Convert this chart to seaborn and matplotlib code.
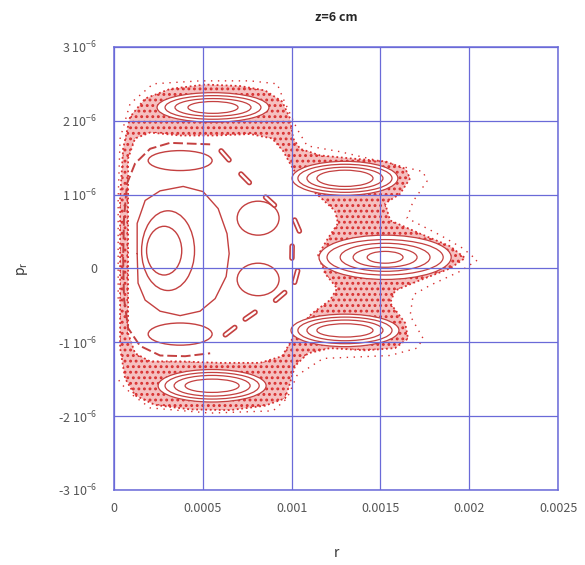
import numpy as np
import matplotlib
matplotlib.use("Agg")
import matplotlib.pyplot as plt
import seaborn as sns
from matplotlib.patches import Ellipse

# ---------------- data (r in 1e-4, p_r in 1e-6) ----------------
R_UNIT = 1e-4
P_UNIT = 1e-6

x_ticks = [0, 0.0005, 0.001, 0.0015, 0.002, 0.0025]
x_tick_labels = ["0", "0.0005", "0.001", "0.0015", "0.002", "0.0025"]
y_ticks = [-3e-6, -2e-6, -1e-6, 0, 1e-6, 2e-6, 3e-6]
y_tick_labels = ["-3 10$^{-6}$", "-2 10$^{-6}$", "-1 10$^{-6}$", "0",
                 "1 10$^{-6}$", "2 10$^{-6}$", "3 10$^{-6}$"]

# chaotic layer: outer and inner edges
chaos_outer_r = [0.34, 0.34, 0.51, 0.90, 1.75, 3.15, 5.12, 7.09, 8.50, 9.46, 9.91, 10.08,
                 10.47, 11.60, 13.29, 15.26, 16.39, 16.67, 16.10, 15.26, 15.54, 17.23, 18.92,
                 19.76, 18.92, 17.23, 15.82, 15.54, 16.39, 16.55, 15.82, 14.13, 12.16, 10.92,
                 10.19, 9.91, 9.63, 8.50, 6.53, 4.28, 2.31, 1.18, 0.62, 0.34]
chaos_outer_p = [-0.41, 0.95, 1.62, 2.05, 2.30, 2.43, 2.49, 2.47, 2.41, 2.26, 2.03, 1.76,
                 1.62, 1.53, 1.49, 1.45, 1.35, 1.22, 1.01, 0.88, 0.65, 0.47, 0.30,
                 0.14, 0.00, -0.16, -0.30, -0.47, -0.74, -0.95, -1.08, -1.11, -1.08, -1.15,
                 -1.32, -1.55, -1.76, -1.86, -1.92, -1.91, -1.85, -1.72, -1.49, -1.08]
chaos_inner_r = [0.79, 0.79, 0.79, 1.18, 2.03, 3.72, 5.69, 7.66, 8.90, 9.52, 9.91, 10.47,
                 11.49, 12.44, 12.61, 12.05, 11.49, 11.88, 12.56, 12.16, 11.15, 10.36, 9.91,
                 9.46, 8.22, 5.97, 3.72, 2.03, 1.18, 0.79]
chaos_inner_p = [-0.41, 0.95, 1.49, 1.76, 1.84, 1.80, 1.80, 1.82, 1.76, 1.59, 1.42, 1.19,
                 0.99, 0.78, 0.61, 0.41, 0.18, -0.07, -0.27, -0.43, -0.61, -0.81, -1.01,
                 -1.19, -1.28, -1.28, -1.26, -1.26, -1.15, -0.88]

# outermost sparse (dotted) orbit
outer_dot_r = [0.23, 0.23, 0.34, 0.90, 2.20, 4.84, 7.66, 9.18, 9.52, 10.30, 10.87, 12.73,
               15.54, 17.40, 17.62, 16.84, 16.50, 18.36, 19.65, 20.44, 19.48, 17.79, 16.84,
               16.67, 17.40, 17.06, 15.54, 11.77, 10.30, 9.74, 8.95, 5.41, 2.03, 1.07, 0.34, 0.23]
outer_dot_p = [-0.41, 0.95, 1.76, 2.23, 2.50, 2.54, 2.54, 2.50, 2.30, 1.89, 1.66, 1.58,
               1.42, 1.31, 1.18, 0.91, 0.68, 0.45, 0.27, 0.11, -0.04, -0.23, -0.36,
               -0.64, -0.95, -1.08, -1.18, -1.22, -1.45, -1.76, -1.93, -1.96, -1.89, -1.72, -1.55, -1.49]

# resonant islands (nested loops): centre, half widths, half heights
island_r = [5.57, 5.52, 13.0, 15.26, 13.0]
island_p = [2.18, -1.59, 1.22, 0.15, -0.84]
island_hw = [[1.41, 2.14, 2.70, 3.15],
             [1.52, 2.14, 2.65, 3.04],
             [1.58, 2.14, 2.65, 2.98],
             [1.01, 1.80, 2.53, 3.27, 3.72],
             [1.58, 2.14, 2.65, 3.04]]
island_hh = [[0.08, 0.12, 0.16, 0.20],
             [0.09, 0.14, 0.18, 0.22],
             [0.11, 0.15, 0.19, 0.23],
             [0.08, 0.135, 0.19, 0.24, 0.30],
             [0.09, 0.14, 0.18, 0.22]]

# central island inner tori
core_r = [2.82, 3.04]
core_p = [0.24, 0.24]
core_hw = [0.99, 1.49]
core_hh = [0.33, 0.54]
tri_r = [1.30, 1.30, 1.75, 2.59, 3.89, 5.01, 5.86, 6.36, 6.48, 6.31, 5.69, 4.84,
         3.72, 2.59, 1.75, 1.35, 1.30]
tri_p = [0.20, 0.61, 0.92, 1.05, 1.11, 1.04, 0.81, 0.47, 0.20, -0.11, -0.41, -0.58,
         -0.64, -0.58, -0.43, -0.20, 0.20]

# secondary small islands
small_r = [3.72, 3.72, 8.11, 8.11]
small_p = [1.46, -0.89, 0.68, -0.15]
small_hw = [1.80, 1.80, 1.18, 1.18]
small_hh = [0.135, 0.15, 0.23, 0.22]

# chain of tiny islands
chain_r = [6.25, 7.38, 8.78, 10.30, 10.02, 10.25, 9.35, 7.66, 6.53]
chain_p = [1.53, 1.22, 0.91, 0.58, 0.22, -0.11, -0.38, -0.64, -0.85]

# crescent-shaped torus on the left
cres_r = [5.41, 3.15, 2.03, 1.18, 0.73, 0.56, 0.51, 0.56, 0.79, 1.46, 2.59, 4.00, 5.41]
cres_p = [1.68, 1.70, 1.62, 1.42, 1.15, 0.68, 0.14, -0.41, -0.81, -1.05, -1.18, -1.19, -1.15]
inner_dot_r = [0.73, 0.73]
inner_dot_p = [1.08, -0.36]

# ---------------- plotting ----------------
sns.set_theme(style="white")
plt.rcParams["font.family"] = ["Noto Sans CJK JP", "DejaVu Sans"]
plt.rcParams["mathtext.default"] = "regular"
plt.rcParams["hatch.linewidth"] = 1.3

RED = "#d83030"
LOOP = "#c44040"
BLUE = "#6a6ad8"

fig = plt.figure(figsize=(5.85, 5.65), dpi=100)
ax = fig.add_axes([0.195, 0.133, 0.759, 0.784])


def arr(v, unit):
    return np.asarray(v, dtype=float) * unit


# chaotic sea (speckled)
ax.fill(arr(chaos_outer_r, R_UNIT), arr(chaos_outer_p, P_UNIT), facecolor="#f5c0c0",
        edgecolor=RED, lw=0, hatch="...", zorder=1)
sns.lineplot(x=arr(chaos_outer_r + chaos_outer_r[:1], R_UNIT),
             y=arr(chaos_outer_p + chaos_outer_p[:1], P_UNIT), sort=False, estimator=None,
             ax=ax, color=RED, lw=1.3, linestyle=(0, (1, 1.5)), zorder=1.05)
ax.fill(arr(chaos_inner_r, R_UNIT), arr(chaos_inner_p, P_UNIT), facecolor="white",
        edgecolor="none", zorder=1.1)
sns.lineplot(x=arr(chaos_inner_r + chaos_inner_r[:1], R_UNIT),
             y=arr(chaos_inner_p + chaos_inner_p[:1], P_UNIT), sort=False, estimator=None,
             ax=ax, color=RED, lw=1.3, linestyle=(0, (1, 1.5)), zorder=1.15)

# outer sparse orbit
sns.lineplot(x=arr(outer_dot_r, R_UNIT), y=arr(outer_dot_p, P_UNIT), sort=False,
             estimator=None, ax=ax, color=RED, lw=1.0, linestyle=(0, (1, 4)), zorder=2)

# islands
for cr, cp, hws, hhs in zip(island_r, island_p, island_hw, island_hh):
    ax.add_patch(Ellipse((cr * R_UNIT, cp * P_UNIT), 2 * hws[-1] * R_UNIT, 2 * hhs[-1] * P_UNIT,
                         facecolor="white", edgecolor="none", zorder=1.2))
    for hw, hh in zip(hws, hhs):
        ax.add_patch(Ellipse((cr * R_UNIT, cp * P_UNIT), 2 * hw * R_UNIT, 2 * hh * P_UNIT,
                             facecolor="none", edgecolor=LOOP, lw=0.9, zorder=2))

for cr, cp, hw, hh in zip(core_r, core_p, core_hw, core_hh):
    ax.add_patch(Ellipse((cr * R_UNIT, cp * P_UNIT), 2 * hw * R_UNIT, 2 * hh * P_UNIT,
                         facecolor="none", edgecolor=LOOP, lw=1.0, zorder=2))
sns.lineplot(x=arr(tri_r, R_UNIT), y=arr(tri_p, P_UNIT), sort=False, estimator=None,
             ax=ax, color=LOOP, lw=1.0, zorder=2)

for cr, cp, hw, hh in zip(small_r, small_p, small_hw, small_hh):
    ax.add_patch(Ellipse((cr * R_UNIT, cp * P_UNIT), 2 * hw * R_UNIT, 2 * hh * P_UNIT,
                         facecolor="none", edgecolor=LOOP, lw=1.0, zorder=2))

# tiny island chain, oriented along the chain
px_r, px_p = 17.76, 74.0
cr_px = np.asarray(chain_r) * px_r
cp_px = np.asarray(chain_p) * px_p
dr = np.gradient(cr_px)
dp = np.gradient(cp_px)
norm = np.hypot(dr, dp)
half = 6.0
for i in range(len(chain_r)):
    ur, up = dr[i] / norm[i], dp[i] / norm[i]
    xs = np.array([cr_px[i] - half * ur, cr_px[i] + half * ur]) / px_r * R_UNIT
    ys = np.array([cp_px[i] - half * up, cp_px[i] + half * up]) / px_p * P_UNIT
    ax.plot(xs, ys, color=LOOP, lw=4.0, solid_capstyle="round", zorder=2)
    ax.plot(xs, ys, color="white", lw=1.6, solid_capstyle="round", zorder=2.1)

# crescent torus
sns.lineplot(x=arr(cres_r, R_UNIT), y=arr(cres_p, P_UNIT), sort=False, estimator=None,
             ax=ax, color=LOOP, lw=1.4, linestyle=(0, (5, 2)), zorder=2)
sns.lineplot(x=arr(inner_dot_r, R_UNIT), y=arr(inner_dot_p, P_UNIT), sort=False,
             estimator=None, ax=ax, color=RED, lw=1.0, linestyle=(0, (1, 3)), zorder=2)

# axes styling
ax.set_xlim(0, 0.0025)
ax.set_ylim(-3e-6, 3e-6)
ax.set_xticks(x_ticks)
ax.set_xticklabels(x_tick_labels)
ax.set_yticks(y_ticks)
ax.set_yticklabels(y_tick_labels)
ax.set_axisbelow(False)
ax.grid(True, color=BLUE, lw=0.9)
for s in ax.spines.values():
    s.set_color(BLUE)
    s.set_linewidth(1.1)
ax.tick_params(axis="both", length=0, labelsize=9, colors="#555555")
ax.tick_params(axis="x", pad=9)
ax.tick_params(axis="y", pad=12)
ax.set_xlabel("r", fontsize=10, color="#333333", labelpad=22)
ax.set_ylabel("p$_r$", fontsize=10, color="#333333", labelpad=20)
ax.set_title("z=6 cm", fontsize=9, fontweight="bold", pad=19)

fig.savefig("out.png", dpi=100)
